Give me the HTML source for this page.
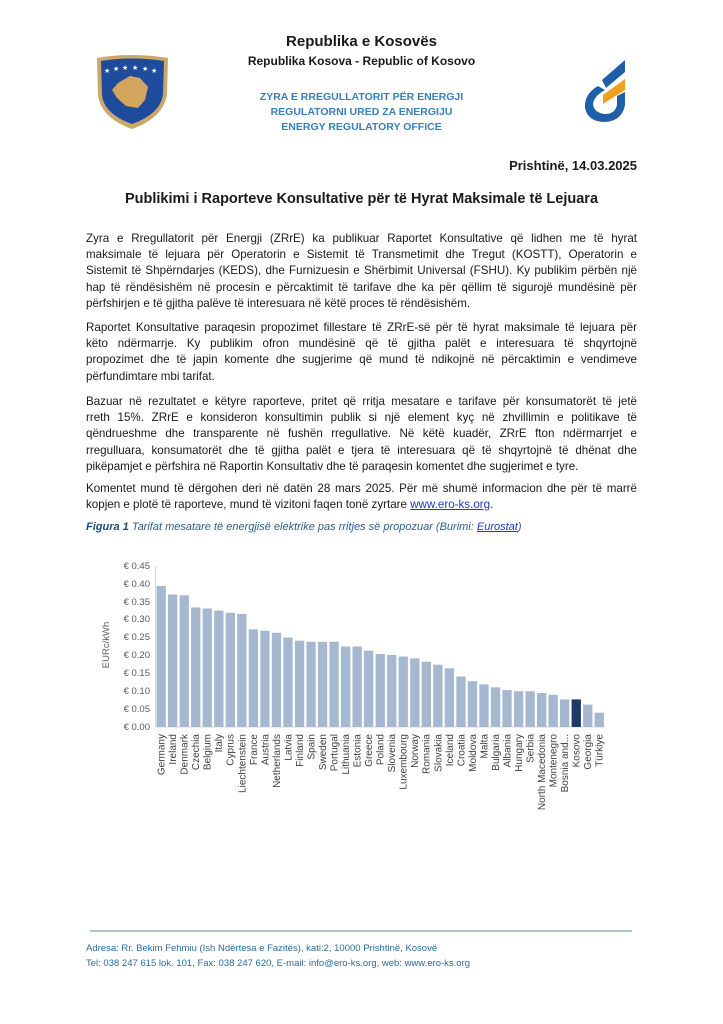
<!DOCTYPE html>
<html><head><meta charset="utf-8"><style>
body{margin:0;background:#fff;}
#pg{position:relative;width:723px;height:1024px;overflow:hidden;font-family:"Liberation Sans",sans-serif;color:#1a1a1a;}
.a{position:absolute;white-space:nowrap;}
.c{left:0;width:723px;text-align:center;}
.p{position:absolute;left:86px;width:551px;font-size:11.6px;line-height:16.2px;color:#1a1a1a;}
.p div{text-align:justify;text-align-last:justify;height:16.2px;white-space:nowrap;}
.p div.l{text-align-last:left;}
.blue{color:#3a7fb8;font-weight:bold;font-size:10.5px;}
</style></head><body><div id="pg">
<svg class="a" style="left:0;top:0" width="723" height="1024">
<path d="M97 58 Q132 52 168 58 L167 95 Q163 118 132 129 Q101 118 98 95 Z" fill="#c9a86a"/>
<path d="M101 61 Q132 56 164 61 L163 95 Q160 114 132 124 Q104 114 102 95 Z" fill="#1e4b9c"/>
<g fill="#fff" font-size="7">
<text x="104" y="73">★</text><text x="113" y="71">★</text><text x="122" y="70">★</text><text x="132" y="70">★</text><text x="142" y="71">★</text><text x="151" y="73">★</text></g>
<path d="M118 83 L130 76 L140 78 L148 87 L145 100 L138 108 L126 106 L117 98 L112 90 Z" fill="#d4a55c"/>
<path d="M598 86 Q584 94 585 108 Q588 122 605 122 Q622 121 625 105 L625 92 L617 96 L617 105 Q615 114 605 114 Q594 113 593 104 Q594 96 605 90 Z" fill="#1e5fa8"/>
<path d="M602 80 L625 60 L625 72 L606 88 Z" fill="#1e5fa8"/>
<path d="M603 95 L625 79 L625 90 L603 104 Z" fill="#f0a020"/>
<g font-size="9.5" fill="#595959" text-anchor="end">
<text x="150" y="730">€ 0.00</text><text x="150" y="712">€ 0.05</text><text x="150" y="694">€ 0.10</text><text x="150" y="676">€ 0.15</text><text x="150" y="658">€ 0.20</text><text x="150" y="640">€ 0.25</text><text x="150" y="622">€ 0.30</text><text x="150" y="605">€ 0.35</text><text x="150" y="587">€ 0.40</text><text x="150" y="569">€ 0.45</text>
</g>
<text transform="translate(109,645) rotate(-90)" font-size="9.5" fill="#595959" text-anchor="middle">EURc/kWh</text>
<line x1="155.5" y1="566" x2="155.5" y2="727" stroke="#d9d9d9"/>
<line x1="155" y1="727" x2="605" y2="727" stroke="#d9d9d9"/>
<g id="bars"></g>
<g id="labs" font-size="10" fill="#404040" text-anchor="end"></g>
<line x1="90" y1="931" x2="632" y2="931" stroke="#8fb0c8" stroke-width="1.5"/>
</svg>
<div class="a c" style="top:33px;font-weight:bold;font-size:15px;">Republika e Kosovës</div>
<div class="a c" style="top:54px;font-weight:bold;font-size:12px;">Republika Kosova - Republic of Kosovo</div>
<div class="a c blue" style="top:91px;">ZYRA E RREGULLATORIT PËR ENERGJI</div>
<div class="a c blue" style="top:106px;">REGULATORNI URED ZA ENERGIJU</div>
<div class="a c blue" style="top:121px;">ENERGY REGULATORY OFFICE</div>
<div class="a" style="right:86px;top:158px;font-weight:bold;font-size:13px;">Prishtinë, 14.03.2025</div>
<div class="a c" style="top:191px;font-weight:bold;font-size:14.5px;">Publikimi i Raporteve Konsultative për të Hyrat Maksimale të Lejuara</div>
<div class="p" style="top:231px;">
<div>Zyra e Rregullatorit për Energji (ZRrE) ka publikuar Raportet Konsultative që lidhen me të hyrat</div>
<div>maksimale të lejuara për Operatorin e Sistemit të Transmetimit dhe Tregut (KOSTT), Operatorin e</div>
<div>Sistemit të Shpërndarjes (KEDS), dhe Furnizuesin e Shërbimit Universal (FSHU). Ky publikim përbën një</div>
<div>hap të rëndësishëm në procesin e përcaktimit të tarifave dhe ka për qëllim të sigurojë mundësinë për</div>
<div class="l">përfshirjen e të gjitha palëve të interesuara në këtë proces të rëndësishëm.</div>
</div>
<div class="p" style="top:320px;">
<div>Raportet Konsultative paraqesin propozimet fillestare të ZRrE-së për të hyrat maksimale të lejuara për</div>
<div>këto ndërmarrje. Ky publikim ofron mundësinë që të gjitha palët e interesuara të shqyrtojnë</div>
<div>propozimet dhe të japin komente dhe sugjerime që mund të ndikojnë në përcaktimin e vendimeve</div>
<div class="l">përfundimtare mbi tarifat.</div>
</div>
<div class="p" style="top:394px;">
<div>Bazuar në rezultatet e këtyre raporteve, pritet që rritja mesatare e tarifave për konsumatorët të jetë</div>
<div>rreth 15%. ZRrE e konsideron konsultimin publik si një element kyç në zhvillimin e politikave të</div>
<div>qëndrueshme dhe transparente në fushën rregullative. Në këtë kuadër, ZRrE fton ndërmarrjet e</div>
<div>rregulluara, konsumatorët dhe të gjitha palët e tjera të interesuara që të shqyrtojnë të dhënat dhe</div>
<div class="l">pikëpamjet e përfshira në Raportin Konsultativ dhe të paraqesin komentet dhe sugjerimet e tyre.</div>
</div>
<div class="p" style="top:481px;">
<div>Komentet mund të dërgohen deri në datën 28 mars 2025. Për më shumë informacion dhe për të marrë</div>
<div class="l">kopjen e plotë të raporteve, mund të vizitoni faqen tonë zyrtare <span style="color:#1a3cc8;text-decoration:underline">www.ero-ks.org</span>.</div>
</div>
<div class="a" style="left:86px;top:521px;font-size:11px;font-style:italic;color:#2e5f8a;"><b style="color:#1f4e79">Figura 1</b> Tarifat mesatare të energjisë elektrike pas rritjes së propozuar (Burimi: <span style="color:#1a3cc8;text-decoration:underline">Eurostat</span>)</div>
<div class="a" style="left:86px;top:943px;font-size:9.5px;color:#2e6a99;">Adresa: Rr. Bekim Fehmiu (Ish Ndërtesa e Fazitës), kati:2, 10000 Prishtinë, Kosovë</div>
<div class="a" style="left:86px;top:958px;font-size:9.5px;color:#2e6a99;">Tel: 038 247 615 lok. 101, Fax: 038 247 620, E-mail: info@ero-ks.org, web: www.ero-ks.org</div>
</div>
<script>
var n=["Germany","Ireland","Denmark","Czechia","Belgium","Italy","Cyprus","Liechtenstein","France","Austria","Netherlands","Latvia","Finland","Spain","Sweden","Portugal","Lithuania","Estonia","Greece","Poland","Slovenia","Luxembourg","Norway","Romania","Slovakia","Iceland","Croatia","Moldova","Malta","Bulgaria","Albania","Hungary","Serbia","North Macedonia","Montenegro","Bosnia and...","Kosovo","Georgia","Türkiye"];
var v=[.394,.370,.368,.334,.331,.325,.319,.316,.273,.269,.263,.250,.241,.238,.238,.238,.225,.225,.213,.204,.2015,.197,.192,.182,.174,.164,.141,.128,.119,.111,.103,.100,.100,.095,.090,.077,.077,.0625,.040];
var b="",l="";
for(var i=0;i<n.length;i++){var x=156.5+i*11.53,h=v[i]*358;
b+='<rect x="'+x.toFixed(1)+'" y="'+(727-h).toFixed(1)+'" width="9.3" height="'+h.toFixed(1)+'" fill="'+(i==36?'#1f3864':'#a5b8cf')+'"/>';
var cx=x+4.65+3.4;l+='<text transform="translate('+cx.toFixed(1)+',734) rotate(-90)">'+n[i]+'</text>';}
document.getElementById("bars").innerHTML=b;document.getElementById("labs").innerHTML=l;
</script>
</body></html>
